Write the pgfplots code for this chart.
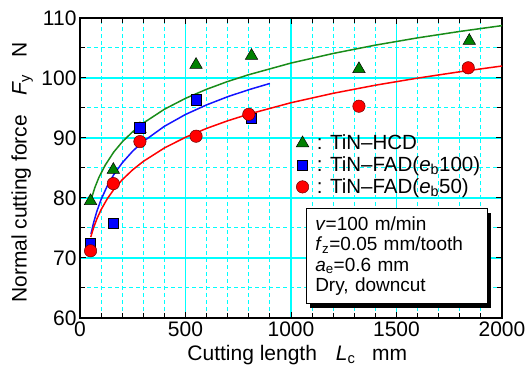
\documentclass[border=0pt]{standalone}
\usepackage{pgfplots}
\pgfplotsset{compat=1.18}
\usepackage{fontspec}
\setmainfont{Liberation Sans}
\usetikzlibrary{shadows}
\definecolor{mkgreen}{RGB}{0,128,0}
\definecolor{lngreen}{RGB}{25,140,25}
\definecolor{lnblue}{RGB}{20,20,255}
\definecolor{lnred}{RGB}{255,0,0}
\definecolor{gridcyan}{RGB}{0,255,255}
\begin{document}
\begin{tikzpicture}
\useasboundingbox (-80pt,-48pt) rectangle (445pt,318pt);
\begin{axis}[
  at={(0pt,0pt)}, anchor=south west, scale only axis,
  width=422pt, height=300pt,
  xmin=0, xmax=2000, ymin=60, ymax=110,
  xtick={0,500,1000,1500,2000}, minor xtick={100,200,...,1900},
  ytick={60,70,...,110}, minor ytick={65,75,...,105},
  grid=both,
  major grid style={draw=gridcyan, line width=1.3pt},
  minor grid style={draw=gridcyan, line width=1pt, dash pattern=on 4pt off 3pt},
  tick align=inside, major tick length=6pt, minor tick length=5pt,
  tick style={black, line width=1pt},
  axis line style={black, line width=1.5pt},
  ticklabel style={font=\fontsize{21}{21}\selectfont},
  /pgf/number format/assume math mode=true,
  /pgf/number format/1000 sep={},
  xlabel={Cutting length\hspace{0.9em}\textit{L}\textsubscript{c}\hspace{0.8em}mm},
  ylabel={Normal cutting force\hspace{0.9em}\textit{F}\textsubscript{y}\hspace{0.8em}N},
  label style={font=\fontsize{21}{21}\selectfont},
  xlabel style={at={(axis description cs:0.515,-0.123)}, anchor=center},
  ylabel style={at={(axis description cs:-0.137,0.485)}, anchor=center},
  clip mode=individual,
  legend style={draw=none, fill=none, at={(axis cs:1010,91.2)}, anchor=north west,
    font=\fontsize{20.5}{20.5}\selectfont, row sep=1.5pt},
  legend cell align=left,
]
% fitted curves
\addplot[lngreen, line width=1.5pt, forget plot] coordinates {
(54,79.9)(70,81.7)(90,83.46)(120,85.5)(160,87.66)(200,89.35)(250,91.05)(300,92.49)
(400,94.79)(500,96.61)(600,98.12)(700,99.42)(800,100.55)(1000,102.49)(1200,104.09)
(1400,105.48)(1600,106.69)(1800,107.76)(2000,108.73)};
\addplot[lnblue, line width=1.5pt, forget plot] coordinates {
(52,74)(65,75.96)(80,77.79)(100,79.75)(130,82.06)(160,83.89)(200,85.85)(250,87.82)
(300,89.42)(400,91.95)(500,93.92)(600,95.52)(700,96.88)(800,98.05)(900,99.09)};
\addplot[lnred, line width=1.5pt, forget plot] coordinates {
(51,73.5)(65,75.11)(80,76.52)(100,78.06)(130,79.91)(160,81.4)(200,83.04)(250,84.71)
(300,86.1)(400,88.34)(500,90.12)(600,91.6)(700,92.87)(800,93.98)(1000,95.88)
(1200,97.45)(1400,98.8)(1600,99.98)(1800,101.04)(2000,102.0)};
% data
\addplot[only marks, mark=triangle*, mark size=7.2pt,
  mark options={fill=mkgreen, draw=black, line width=0.5pt}] coordinates {
(50,79.5)(158,84.7)(284,91.5)(550,102.2)(813,103.7)(1322,101.5)(1845,106.2)};
\addlegendentry{\hspace{6pt}: TiN–HCD}
\addplot[only marks, mark=square*, mark size=5.2pt,
  mark options={fill=blue, draw=black, line width=0.5pt}] coordinates {
(50,72.4)(158,75.8)(284,91.7)(550,96.4)(813,93.3)};
\addlegendentry{\hspace{6pt}: TiN–FAD(\textit{e}\textsubscript{b}100)}
\addplot[only marks, mark=*, mark size=6.2pt,
  mark options={fill=red, draw=black!60!red, line width=0.5pt}] coordinates {
(50,71.2)(158,82.4)(284,89.4)(550,90.3)(800,93.95)(1322,95.3)(1840,101.7)};
\addlegendentry{\hspace{6pt}: TiN–FAD(\textit{e}\textsubscript{b}50)}
% condition box
\node[draw=black, line width=1pt, fill=white,
  drop shadow={shadow xshift=4pt, shadow yshift=-4pt, fill=black, opacity=1},
  anchor=north west, minimum width=181pt, minimum height=95pt,
  text width=163pt, inner xsep=9pt, align=left,
  font=\fontsize{19}{20.5}\selectfont] at (axis cs:1070,78.33)
  {\textit{v}=100 m/min\\
   \textit{f}\textsubscript{z}=0.05 mm/tooth\\
   \textit{a}\textsubscript{e}=0.6 mm\\
   Dry, downcut};
\end{axis}
\end{tikzpicture}
\end{document}
